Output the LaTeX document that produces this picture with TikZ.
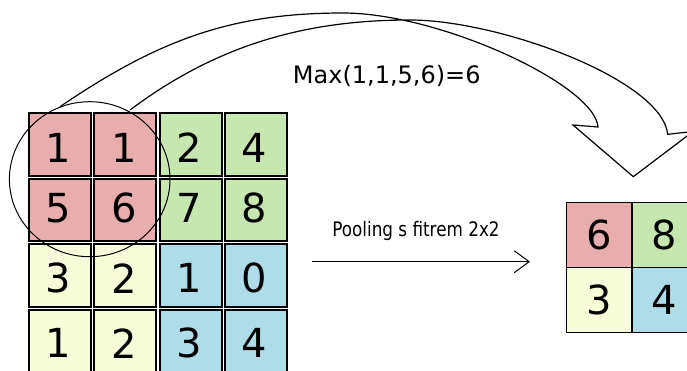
\documentclass[tikz,border=0pt]{standalone}
\usepackage{fontspec}
\setmainfont{DejaVu Sans}
\newfontfamily\condfont[FakeStretch=0.84]{DejaVu Sans}
\usetikzlibrary{arrows.meta}
\definecolor{cpink}{RGB}{232,174,174}
\definecolor{cgreen}{RGB}{199,231,177}
\definecolor{cyellow}{RGB}{247,253,217}
\definecolor{cblue}{RGB}{174,221,233}
\begin{document}
\begin{tikzpicture}[x=1pt,y=-1pt,
 cell/.style={draw=black, line width=2pt, minimum width=62pt, minimum height=62.5pt, inner sep=0pt, outer sep=0pt},
 dig/.style={font=\fontsize{40}{44}\selectfont, inner sep=0pt},
 scell/.style={draw=black, line width=1.5pt, minimum width=65.3pt, minimum height=65pt, inner sep=0pt, font=\fontsize{40}{44}\selectfont},
 curve/.style={line width=1.2pt, line join=miter}
]
\useasboundingbox (0,0) rectangle (687,370);
\clip (0,0) rectangle (687,370);
% big grid cells
\node[cell, fill=cpink]   (b11) at (60.1,144.55) {};
\node[cell, fill=cpink]   (b12) at (125.3,144.55) {};
\node[cell, fill=cgreen]  (b13) at (190.5,144.55) {};
\node[cell, fill=cgreen]  (b14) at (255.7,144.55) {};
\node[cell, fill=cpink]   (b21) at (60.1,210.05) {};
\node[cell, fill=cpink]   (b22) at (125.3,210.05) {};
\node[cell, fill=cgreen]  (b23) at (190.5,210.05) {};
\node[cell, fill=cgreen]  (b24) at (255.7,210.05) {};
\node[cell, fill=cyellow] (b31) at (60.1,275.55) {};
\node[cell, fill=cyellow] (b32) at (125.3,275.55) {};
\node[cell, fill=cblue]   (b33) at (190.5,275.55) {};
\node[cell, fill=cblue]   (b34) at (255.7,275.55) {};
\node[cell, fill=cyellow] (b41) at (60.1,341.05) {};
\node[cell, fill=cyellow] (b42) at (125.3,341.05) {};
\node[cell, fill=cblue]   (b43) at (190.5,341.05) {};
\node[cell, fill=cblue]   (b44) at (255.7,341.05) {};
% digits
\node[dig] (d11) at (58.6,148) {1};
\node[dig] (d12) at (123.8,148) {1};
\node[dig] (d13) at (189,148) {2};
\node[dig] (d14) at (254.2,148) {4};
\node[dig] (d21) at (58.6,208.3) {5};
\node[dig] (d22) at (123.8,208.3) {6};
\node[dig] (d23) at (189,208.3) {7};
\node[dig] (d24) at (254.2,208.3) {8};
\node[dig] (d31) at (58.6,278.3) {3};
\node[dig] (d32) at (123.8,278.3) {2};
\node[dig] (d33) at (189,278.3) {1};
\node[dig] (d34) at (254.2,278.3) {0};
\node[dig] (d41) at (58.6,343.3) {1};
\node[dig] (d42) at (123.8,343.3) {2};
\node[dig] (d43) at (189,343.3) {3};
\node[dig] (d44) at (254.2,343.3) {4};
% small grid
\node[scell, fill=cpink]   (s11) at (599.3,235.2) {6};
\node[scell, fill=cgreen]  (s12) at (664.7,235.2) {8};
\node[scell, fill=cyellow] (s21) at (599.3,300.2) {3};
\node[scell, fill=cblue]   (s22) at (664.7,300.2) {4};
% circle
\draw[line width=1pt] (89.7,179.2) ellipse [x radius=80.3pt, y radius=77.5pt];
% curved hollow arrow (twisted band)
\coordinate (u0) at (60,106.7);
\coordinate (up) at (343,13);
\coordinate (u1) at (598,127);
\coordinate (hl) at (573,125);
\coordinate (ht) at (633.3,176.7);
\coordinate (hr) at (693,131.5);
\coordinate (l1) at (667.7,134.3);
\coordinate (lp) at (410,20);
\coordinate (l0) at (130,110);
\draw[curve] (u0) .. controls (160,38.7) and (233,13) .. (up)
  .. controls (440,13) and (595,85) .. (u1)
  -- (hl) -- (ht) -- (hr) -- (l1)
  .. controls (662,80) and (500,20) .. (lp)
  .. controls (310,20) and (220,42.5) .. (l0);
% labels
\node[anchor=base west, font=\fontsize{24}{28}\selectfont, inner sep=0pt] (maxlbl) at (292.7,83.3) {Max(1,1,5,6)=6};
\node[anchor=base, font=\condfont\fontsize{20}{24}\selectfont, inner sep=0pt] (plbl) at (416,236.7) {Pooling s fitrem 2x2};
% straight arrow
\coordinate (pa) at (312,261.7);
\coordinate (pb) at (530,261.7);
\draw[line width=1pt, -{Straight Barb[length=15pt,width=22pt]}] (pa) -- (pb);
\end{tikzpicture}
\end{document}
